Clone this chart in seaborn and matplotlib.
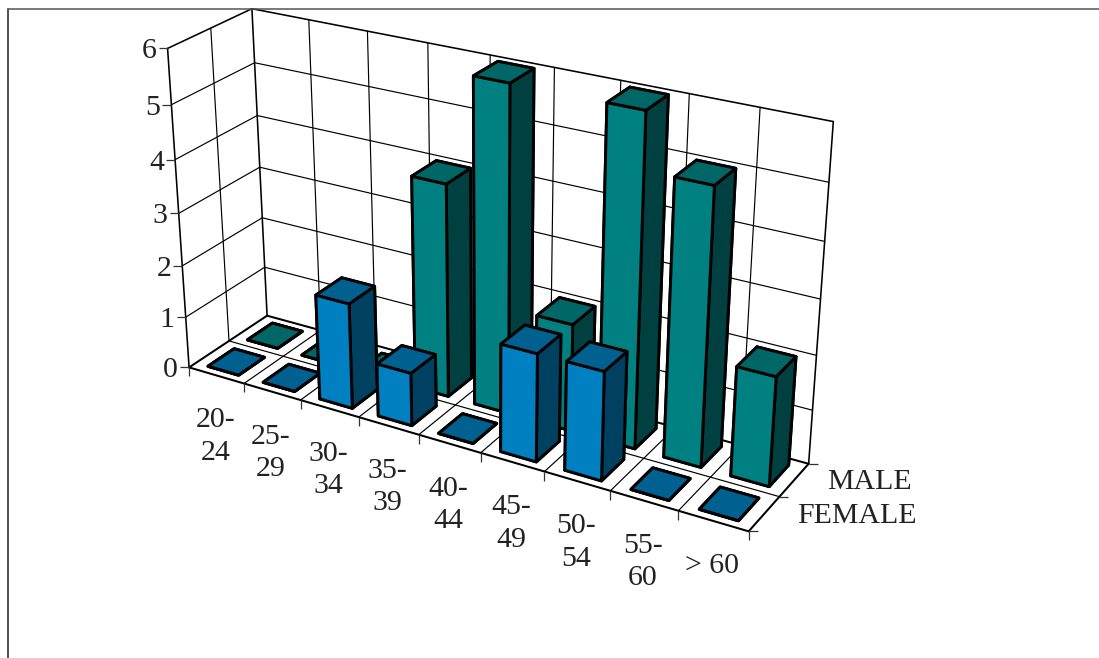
import numpy as np
import matplotlib
matplotlib.use("Agg")
import matplotlib.pyplot as plt
from matplotlib.lines import Line2D
from matplotlib.markers import TICKLEFT, TICKRIGHT, TICKDOWN
from mpl_toolkits.mplot3d import proj3d
import seaborn as sns

# ---- data ----
age_groups = ["20-\n24", "25-\n29", "30-\n34", "35-\n39", "40-\n44",
              "45-\n49", "50-\n54", "55-\n60", "> 60"]
female = [0, 0, 2, 1, 0, 2, 2, 0, 0]
male = [0, 0, 0, 4, 6, 2, 6, 5, 2]
series_names = ["FEMALE", "MALE"]
z_ticks = [0, 1, 2, 3, 4, 5, 6]

# ---- styles ----
sns.set_theme(style="white")
plt.rcParams["font.family"] = ["Liberation Serif", "DejaVu Serif"]
TEXT = "#222222"
FS = 21.5
blue = sns.color_palette(["#0080C0", "#006090", "#004060"])
teal = sns.color_palette(["#008080", "#006666", "#004040"])

W, H = 1099, 658
fig = plt.figure(figsize=(W / 100, H / 100), dpi=100, facecolor="white")
ax = fig.add_axes([0, 0, 1, 1], projection="3d")
ax.set_axis_off()
ax.computed_zorder = False
ax.apply_aspect = lambda position=None: None  # keep the axes on the full figure

nx, ny, nz = len(age_groups), 2, z_ticks[-1]

# ---- camera: calibrated from the corners of the plot box (world -> pixel) ----
box_world = np.array([[0, 0, nz], [0, ny, nz], [0, 0, 0], [0, ny, 0],
                      [nx, ny, nz], [nx, ny, 0], [nx, 0, 0]], float)
box_pixel = np.array([[167.5, 48], [252, 9], [189.5, 367.5], [266.7, 315.7],
                      [833.3, 121.7], [809, 463.3], [748.3, 531.7]], float)
rows = []
for (X, Y, Z), (u, v) in zip(box_world, box_pixel):
    rows.append([X, Y, Z, 1, 0, 0, 0, 0, -u * X, -u * Y, -u * Z, -u])
    rows.append([0, 0, 0, 0, X, Y, Z, 1, -v * X, -v * Y, -v * Z, -v])
P = np.linalg.svd(np.array(rows))[2][-1].reshape(3, 4)
if P[2] @ np.array([0, 0, 0, 1.0]) < 0:
    P = -P


def get_proj():
    d = ax.transData.inverted().get_matrix()
    # pixel (top-left origin) -> display -> 2D data coordinates
    px2d = d @ np.array([[1, 0, 0], [0, -1, H], [0, 0, 1.0]])
    A = px2d @ P
    return np.array([A[0], A[1], [0, 0, 0, -1.0], A[2]])


ax.get_proj = get_proj


def seg(a, b, lw):
    ax.plot3D(*zip(a, b), color="black", lw=lw, zorder=1, solid_capstyle="round")


# ---- walls, floor, grid ----
GRID, BOX, FRONT = 0.85, 1.15, 1.45
for k in z_ticks[1:-1]:
    seg((0, 0, k), (0, ny, k), GRID)
    seg((0, ny, k), (nx, ny, k), GRID)
for i in range(1, nx):
    seg((i, ny, 0), (i, ny, nz), GRID)
    seg((i, 0, 0), (i, ny, 0), GRID)
seg((0, 1, 0), (0, 1, nz), GRID)
seg((0, 1, 0), (nx, 1, 0), GRID)
for a, b in [((0, 0, 0), (0, 0, nz)), ((0, 0, nz), (0, ny, nz)), ((0, ny, 0), (0, ny, nz)),
             ((0, ny, nz), (nx, ny, nz)), ((nx, ny, nz), (nx, ny, 0))]:
    seg(a, b, BOX)
for a, b in [((0, 0, 0), (nx, 0, 0)), ((nx, 0, 0), (nx, ny, 0)),
             ((0, 0, 0), (0, ny, 0)), ((0, ny, 0), (nx, ny, 0))]:
    seg(a, b, FRONT)

# ---- ticks ----
TK = dict(color="#333333", ls="none", ms=6.5, mew=0.9, zorder=1)
for k in z_ticks:
    ax.plot3D([0], [0], [k], marker=TICKLEFT, **TK)
for i in range(nx + 1):
    ax.plot3D([i], [0], [0], marker=TICKDOWN, **TK)
for j in range(ny + 1):
    ax.plot3D([nx], [j], [0], marker=TICKRIGHT, **TK)

# ---- bars ----
GX, GY = 0.22, 0.17
order = 10


def bar(i, j, h, shades):
    global order
    front, top, side = shades
    if h == 0:
        faces = [top] * 6
    else:
        #       -z    +z   -y     +y    -x    +x
        faces = [top, top, front, side, side, side]
    ax.bar3d(i + GX, j + GY, 0, 1 - 2 * GX, 1 - 2 * GY, h, color=faces, shade=False,
             edgecolor="black", linewidth=2.1, zorder=order)
    order += 1


for i, h in enumerate(male):
    bar(i, 1, h, teal)
for i, h in enumerate(female):
    bar(i, 0, h, blue)


# ---- labels, placed by pixel offset from the projected axis points ----
def label(world, s, off, **kw):
    x2, y2, _ = proj3d.proj_transform(*world, get_proj())
    ax.annotate(s, (x2, y2), xycoords="data", xytext=off, textcoords="offset pixels",
                fontsize=FS, color=TEXT, annotation_clip=False, **kw)


for k in z_ticks:
    label((0, 0, k), str(k), (-11, -3), ha="right", va="center")
for i, s in enumerate(age_groups):
    label((i + 0.5, 0, 0), s, (-1, -32), ha="center", va="top", multialignment="center",
          linespacing=1.33)
for j, s in enumerate(series_names):
    label((nx, j + 0.5, 0), s, (33, -2), ha="left", va="center")

# ---- outer frame ----
fig.add_artist(Line2D([7.9 / W, 7.9 / W], [0, 1 - 8.9 / H], color="#333333", lw=1.2,
                      transform=fig.transFigure))
fig.add_artist(Line2D([7.9 / W, 1], [1 - 8.9 / H, 1 - 8.9 / H], color="#555555", lw=1.1,
                      transform=fig.transFigure))

fig.savefig("out.png", dpi=100)
